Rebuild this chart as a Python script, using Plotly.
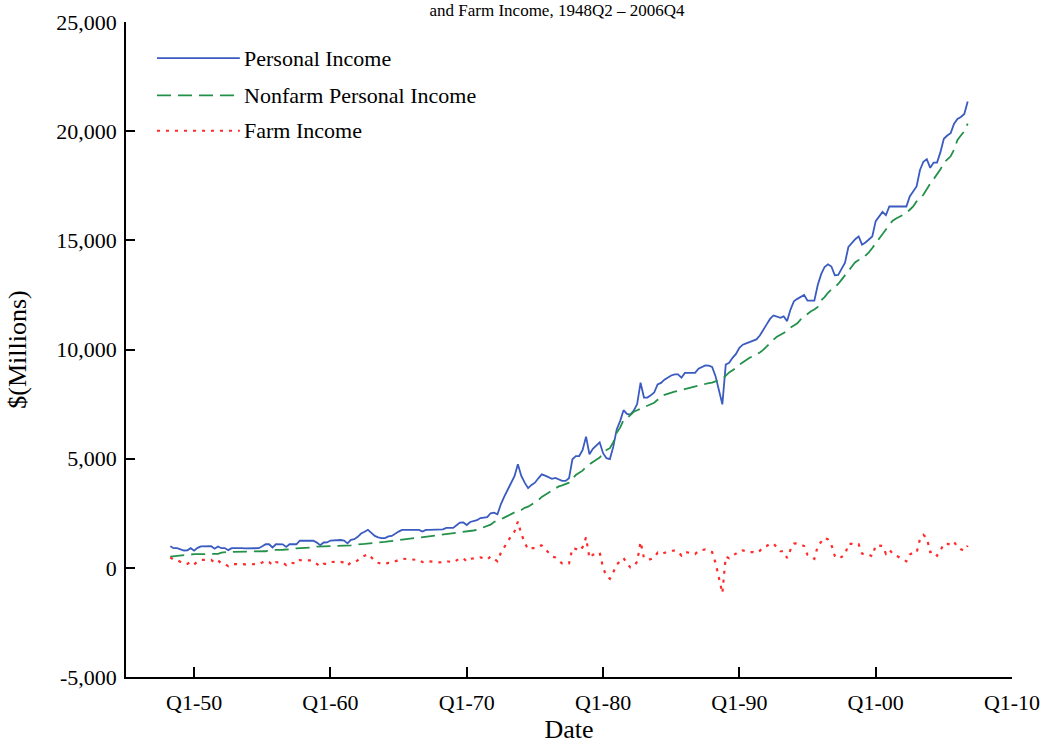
import plotly.graph_objects as go

# Quarterly periods, 1948Q2 through 2006Q4
periods = [f"{y}Q{q}" for y in range(1948, 2007) for q in range(1, 5)][1:]

# $ millions, listed by year (Q1..Q4; 1948 starts at Q2)
personal_income = [
    990, 900, 900,
    840, 795, 800, 900,
    785, 915, 985, 988,
    990, 992, 875, 980,
    900, 905, 810, 900,
    900, 910, 900, 890,
    900, 900, 905, 900,
    985, 1080, 1080, 935,
    1080, 1080, 1078, 960,
    1080, 1080, 1080, 1250,
    1250, 1250, 1250, 1240,
    1155, 1040, 1160, 1162,
    1250, 1260, 1270, 1275,
    1250, 1120, 1280, 1310,
    1420, 1570, 1650, 1740,
    1600, 1460, 1400, 1360,
    1360, 1440, 1460, 1570,
    1660, 1740, 1740, 1740,
    1740, 1740, 1740, 1660,
    1740, 1740, 1740, 1740,
    1740, 1760, 1830, 1830,
    1830, 1950, 2070, 2080,
    1960, 2100, 2150, 2180,
    2280, 2300, 2320, 2500,
    2530, 2450, 2910, 3260,
    3600, 3900, 4200, 4740,
    4210, 3900, 3650, 3800,
    3900, 4100, 4280, 4220,
    4150, 4080, 4120, 4050,
    3980, 3980, 4100, 4970,
    5120, 5120, 5400, 6010,
    5200, 5450, 5580, 5750,
    5250, 5020, 4980, 5550,
    6340, 6720, 7220, 7050,
    7020, 7200, 7500, 8480,
    7800, 7800, 7900, 8030,
    8400, 8470, 8620, 8730,
    8810, 8860, 8860, 8710,
    8930, 8930, 8930, 8930,
    9120, 9190, 9270, 9260,
    9200, 8780, 8100, 7490,
    9310, 9390, 9620, 9800,
    10080, 10220, 10280, 10340,
    10420, 10460, 10640, 10930,
    11150, 11400, 11560, 11510,
    11450, 11520, 11300, 11830,
    12210, 12320, 12430, 12500,
    12240, 12240, 12240, 12950,
    13450, 13780, 13900, 13800,
    13400, 13420, 13700, 13980,
    14700, 14900, 15050, 15180,
    14800, 14900, 15050, 15180,
    15880, 16100, 16300, 16150,
    16550, 16550, 16550, 16550,
    16550, 16550, 17010, 17250,
    17470, 18220, 18600, 18720,
    18320, 18560, 18560, 19040,
    19650, 19800, 19910, 20340,
    20560, 20650, 20790, 21360,
]

nonfarm_income = [
    515, 530, 545,
    580, 610, 620, 625,
    625, 625, 625, 628,
    630, 632, 635, 640,
    700, 725, 730, 730,
    730, 730, 730, 730,
    730, 730, 730, 730,
    735, 760, 810, 825,
    825, 825, 828, 830,
    830, 860, 895, 900,
    900, 905, 910, 940,
    975, 980, 980, 982,
    985, 990, 995, 1000,
    1000, 1010, 1030, 1050,
    1080, 1090, 1100, 1110,
    1120, 1150, 1170, 1180,
    1190, 1210, 1230, 1260,
    1300, 1320, 1340, 1350,
    1360, 1370, 1380, 1400,
    1430, 1450, 1470, 1480,
    1490, 1500, 1520, 1550,
    1580, 1610, 1630, 1650,
    1670, 1690, 1710, 1740,
    1800, 1870, 1940, 1980,
    2100, 2150, 2220, 2300,
    2380, 2450, 2540, 2620,
    2650, 2750, 2800, 2900,
    3000, 3100, 3250, 3350,
    3450, 3550, 3650, 3730,
    3780, 3830, 3900, 4080,
    4250, 4350, 4450, 4620,
    4750, 4850, 4950, 5050,
    5250, 5400, 5480, 5750,
    6190, 6420, 6770, 6850,
    7000, 7150, 7220, 7290,
    7350, 7420, 7500, 7560,
    7700, 7850, 7920, 7980,
    8030, 8070, 8110, 8150,
    8200, 8230, 8260, 8300,
    8340, 8390, 8430, 8460,
    8480, 8550, 8600, 8650,
    8800, 8950, 9050, 9150,
    9300, 9420, 9520, 9620,
    9700, 9780, 9860, 9980,
    10150, 10300, 10450, 10580,
    10690, 10760, 10850, 11000,
    11100, 11200, 11380, 11500,
    11650, 11750, 11830, 11950,
    12250, 12400, 12600, 12750,
    12850, 13000, 13200, 13380,
    13600, 13800, 14000, 14100,
    14150, 14300, 14450, 14650,
    14850, 15080, 15300, 15500,
    15720, 15900, 16000, 16080,
    16150, 16250, 16400, 16550,
    16780, 16900, 17090, 17350,
    17600, 17800, 18000, 18250,
    18550, 18700, 18850, 19150,
    19600, 19800, 20000, 20340,
]

farm_income = [
    475, 370, 355,
    260, 185, 180, 275,
    160, 290, 360, 360,
    360, 360, 240, 340,
    200, 180, 80, 170,
    170, 180, 170, 160,
    170, 170, 175, 170,
    250, 320, 270, 110,
    255, 255, 250, 130,
    250, 220, 185, 350,
    350, 345, 340, 300,
    180, 60, 180, 180,
    265, 270, 275, 275,
    250, 110, 250, 260,
    340, 480, 550, 630,
    480, 310, 230, 180,
    170, 230, 230, 310,
    360, 420, 400, 390,
    380, 370, 360, 260,
    310, 290, 270, 260,
    250, 260, 310, 280,
    250, 340, 440, 430,
    290, 410, 440, 440,
    480, 430, 380, 520,
    430, 300, 690, 960,
    1220, 1450, 1660, 2120,
    1560, 1150, 850, 900,
    900, 1000, 1030, 870,
    700, 530, 470, 320,
    200, 150, 200, 890,
    870, 770, 950, 1390,
    450, 600, 630, 700,
    0, -380, -500, -200,
    150, 300, 450, 200,
    20, 50, 280, 1190,
    450, 380, 400, 470,
    700, 620, 700, 750,
    780, 790, 750, 560,
    730, 700, 670, 630,
    780, 800, 840, 800,
    720, 230, -500, -1160,
    510, 440, 570, 650,
    780, 800, 760, 720,
    720, 680, 780, 950,
    1000, 1100, 1110, 930,
    760, 760, 450, 830,
    1110, 1120, 1050, 1000,
    590, 490, 410, 1000,
    1200, 1380, 1300, 1050,
    550, 420, 500, 600,
    1100, 1100, 1050, 1080,
    650, 600, 600, 530,
    1030, 1020, 1000, 650,
    830, 650, 550, 470,
    400, 300, 610, 700,
    690, 1320, 1510, 1370,
    720, 760, 560, 790,
    1100, 1100, 1060, 1190,
    960, 850, 790, 1020,
]

# Axis ticks
x_tick_years = [1950, 1960, 1970, 1980, 1990, 2000, 2010]
x_tick_labels = ["Q1-50", "Q1-60", "Q1-70", "Q1-80", "Q1-90", "Q1-00", "Q1-10"]
y_tick_values = [-5000, 0, 5000, 10000, 15000, 20000, 25000]
y_tick_labels = ["-5,000", "0", "5,000", "10,000", "15,000", "20,000", "25,000"]

# Numeric time position for each quarter
x_time = [int(p[:4]) + (int(p[-1]) - 1) / 4 for p in periods]

FONT = "Liberation Serif, Times New Roman, serif"
series = [
    ("Personal Income", personal_income, "#3a5bc0", "solid", 1.8),
    ("Nonfarm Personal Income", nonfarm_income, "#23914a", "14px,7px", 1.8),
    ("Farm Income", farm_income, "#ff2a2a", "3px,6px", 2.2),
]

fig = go.Figure()
for name, vals, color, dash, width in series:
    fig.add_trace(go.Scatter(
        x=x_time, y=vals, name=name, mode="lines",
        line=dict(color=color, dash=dash, width=width),
        customdata=periods,
        hovertemplate="%{customdata}: %{y:,}<extra>" + name + "</extra>",
        showlegend=False,
    ))

# Legend drawn inside the upper-left corner of the plot
legend_rows = [0.945, 0.888, 0.834]
for (name, _, color, dash, width), ypos in zip(series, legend_rows):
    fig.add_shape(type="line", xref="paper", yref="paper",
                  x0=0.035, x1=0.1285, y0=ypos, y1=ypos,
                  line=dict(color=color, dash=dash, width=width))
    fig.add_annotation(xref="paper", yref="paper", x=0.131, y=ypos,
                       xanchor="left", yanchor="middle", showarrow=False,
                       text=name, font=dict(family=FONT, size=22, color="black"))

fig.update_layout(
    width=1045, height=744,
    margin=dict(l=126, r=33, t=22, b=67, autoexpand=False),
    paper_bgcolor="white", plot_bgcolor="white",
    font=dict(family=FONT, size=22, color="black"),
    title=dict(text="and Farm Income, 1948Q2 \u2013 2006Q4",
               x=0.533, xanchor="center", xref="container",
               y=1 - 4 / 744, yanchor="top", yref="container",
               automargin=False,
               font=dict(family=FONT, size=17, color="black")),
    showlegend=False,
)
fig.update_xaxes(
    range=[1945, 2010], tickvals=x_tick_years, ticktext=x_tick_labels,
    ticks="inside", ticklen=10, tickwidth=1.5, tickcolor="black",
    ticklabelstandoff=5, automargin=False,
    showline=True, linecolor="black", linewidth=1.5, showgrid=False,
    zeroline=False, title=dict(text="Date", standoff=14),
)
fig.update_yaxes(
    range=[-5000, 25000], tickvals=y_tick_values, ticktext=y_tick_labels,
    ticks="inside", ticklen=9, tickwidth=1.5, tickcolor="black",
    ticklabelstandoff=3, automargin=False,
    showline=True, linecolor="black", linewidth=1.5, showgrid=False,
    zeroline=False, title=dict(text="$(Millions)", standoff=22),
)

fig.write_html("out.html")
